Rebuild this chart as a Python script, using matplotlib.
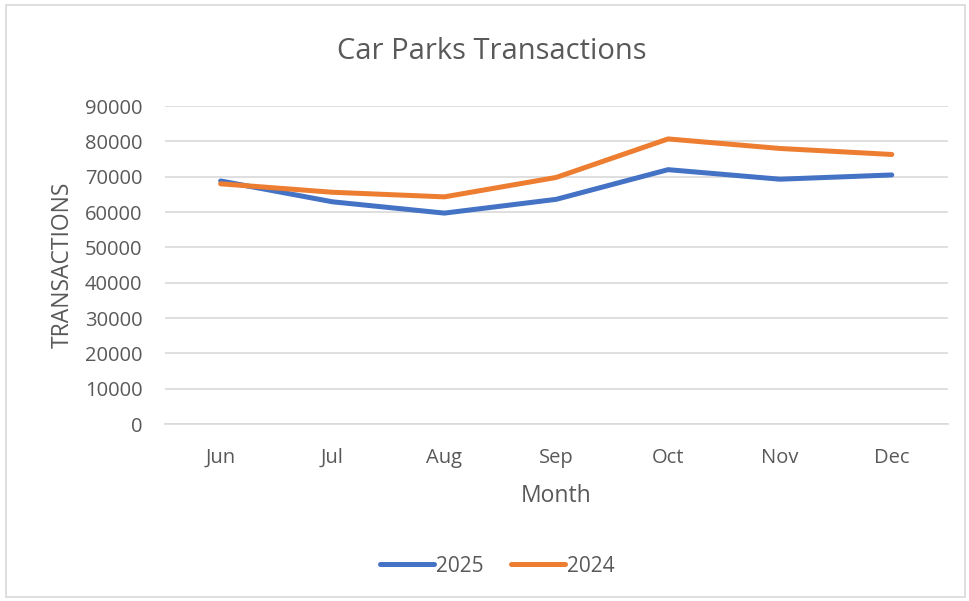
import matplotlib
matplotlib.use("Agg")
import matplotlib.pyplot as plt
from matplotlib.patches import Rectangle

months = ["Jun", "Jul", "Aug", "Sep", "Oct", "Nov", "Dec"]
tx_2025 = [68800, 62900, 59700, 63600, 72000, 69300, 70500]
tx_2024 = [68000, 65600, 64300, 69800, 80700, 78000, 76300]

text_color = "#595959"
grid_color = "#d9d9d9"

plt.rcParams["font.family"] = ["Open Sans", "DejaVu Sans"]

fig = plt.figure(figsize=(9.69, 6.01), dpi=100)
ax = fig.add_axes([0.170, 0.2945, 0.808, 0.529])

x = range(len(months))
ax.plot(x, tx_2025, color="#4472c4", linewidth=3.6, solid_capstyle="round", label="2025")
ax.plot(x, tx_2024, color="#ed7d31", linewidth=3.6, solid_capstyle="round", label="2024")

ax.set_xlim(-0.5, len(months) - 0.5)
ax.set_ylim(0, 90000)
ax.set_yticks(range(0, 90001, 10000))
ax.set_xticks(list(x))
ax.set_xticklabels(months)
ax.grid(axis="y", color=grid_color, linewidth=1.2)
ax.set_axisbelow(True)
for side in ["top", "right", "left"]:
    ax.spines[side].set_visible(False)
ax.spines["bottom"].set_color(grid_color)
ax.spines["bottom"].set_linewidth(1.2)
ax.tick_params(axis="both", length=0, labelsize=14.5, colors=text_color)
ax.tick_params(axis="x", pad=17)
ax.tick_params(axis="y", pad=16)

fig.text(0.507, 1 - 51.5 / 601, "Car Parks Transactions", fontsize=21, color=text_color,
         ha="center", va="center")
ax.set_xlabel("Month", fontsize=16.5, color=text_color, labelpad=12)
ax.set_ylabel("TRANSACTIONS", fontsize=16.5, color=text_color, labelpad=7)

leg = fig.legend(loc="center", bbox_to_anchor=(0.513, 0.058), ncol=2, frameon=False,
                 fontsize=15, handlelength=2.6, handletextpad=0.1, columnspacing=1.3)
for t in leg.get_texts():
    t.set_color(text_color)

fig.patches.append(Rectangle((0.006, 0.006), 0.99, 0.986, transform=fig.transFigure,
                             fill=False, edgecolor=grid_color, linewidth=1.2))

fig.savefig("out.png", dpi=100)
